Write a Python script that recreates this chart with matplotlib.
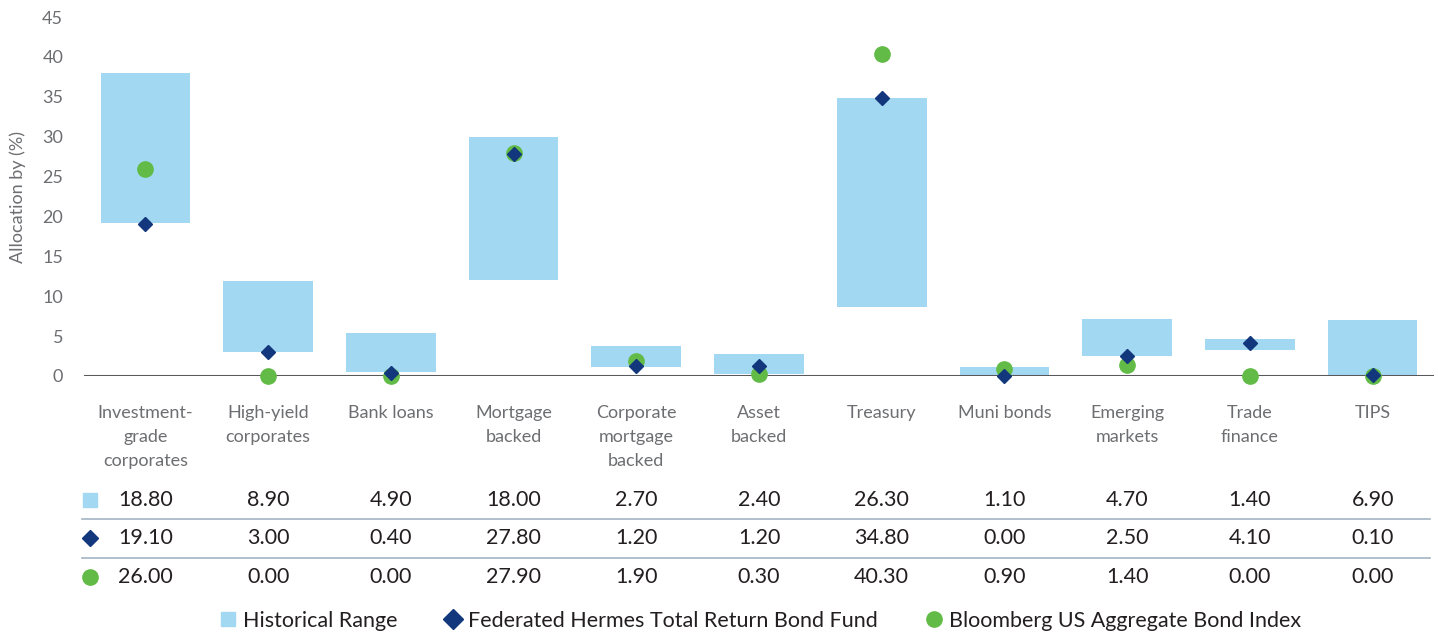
import numpy as np
import matplotlib.pyplot as plt
from matplotlib.lines import Line2D
from matplotlib.transforms import blended_transform_factory

plt.rcParams['font.family'] = ['Lato', 'DejaVu Sans']

categories = ["Investment-\ngrade\ncorporates", "High-yield\ncorporates", "Bank loans",
              "Mortgage\nbacked", "Corporate\nmortgage\nbacked", "Asset\nbacked",
              "Treasury", "Muni bonds", "Emerging\nmarkets", "Trade\nfinance", "TIPS"]
range_width = [18.80, 8.90, 4.90, 18.00, 2.70, 2.40, 26.30, 1.10, 4.70, 1.40, 6.90]
range_low = [19.2, 3.0, 0.5, 12.0, 1.1, 0.3, 8.6, 0.0, 2.5, 3.3, 0.1]
fund = [19.10, 3.00, 0.40, 27.80, 1.20, 1.20, 34.80, 0.00, 2.50, 4.10, 0.10]
index = [26.00, 0.00, 0.00, 27.90, 1.90, 0.30, 40.30, 0.90, 1.40, 0.00, 0.00]

BLUE = "#a3d8f3"
NAVY = "#12377c"
GREEN = "#62bb46"
GRAY = "#6d6e71"
DARK = "#231f20"

W, H = 1438, 635
fig = plt.figure(figsize=(W / 100, H / 100), dpi=100)
ax = fig.add_axes([84 / W, 1 - 376 / H, 1350 / W, 359 / H])

x = np.arange(len(categories))
ax.bar(x, range_width, bottom=range_low, width=0.73, color=BLUE, zorder=2)
ax.axhline(0, color="#58595b", lw=2.2, zorder=2.5)
ax.plot(x, index, "o", color=GREEN, ms=11, clip_on=False, zorder=3, ls="none")
ax.plot(x, fund, "D", color=NAVY, ms=7.5, clip_on=False, zorder=4, ls="none")

ax.set_xlim(-0.5, len(categories) - 0.5)
ax.set_ylim(0, 45)
ax.set_yticks(np.arange(0, 46, 5))
ax.set_xticks(x)
ax.set_xticklabels(categories, linespacing=1.6)
ax.tick_params(axis="y", length=0, pad=15, labelsize=13, labelcolor=GRAY)
ax.tick_params(axis="x", length=0, pad=21, labelsize=13, labelcolor=GRAY)
for s in ax.spines.values():
    s.set_visible(False)

fig.text(18 / W, 1 - 197 / H, "Allocation by (%)", rotation=90, ha="center", va="center",
         fontsize=13, color=GRAY)

# table under the chart
trans = blended_transform_factory(ax.transData, fig.transFigure)
rows = [range_width, fund, index]
row_y = [500, 538, 577]
row_markers = [("s", BLUE, 10), ("D", NAVY, 8), ("o", GREEN, 11)]
for vals, yp, (m, c, ms) in zip(rows, row_y, row_markers):
    yf = 1 - yp / H
    for xi, v in zip(x, vals):
        ax.text(xi, yf, f"{v:.2f}", transform=trans, ha="center", va="center",
                fontsize=15.5, color=DARK)
    fig.add_artist(Line2D([90 / W], [yf], marker=m, color=c, ms=ms, ls="none",
                          transform=fig.transFigure))
for yp in [519, 558]:
    fig.add_artist(Line2D([82 / W, 1430 / W], [1 - yp / H] * 2, color="#a3b3c3", lw=1.2,
                          transform=fig.transFigure))

handles = [Line2D([], [], marker="s", color=BLUE, ms=10, ls="none"),
           Line2D([], [], marker="D", color=NAVY, ms=10, ls="none"),
           Line2D([], [], marker="o", color=GREEN, ms=11, ls="none")]
labels = ["Historical Range", "Federated Hermes Total Return Bond Fund",
          "Bloomberg US Aggregate Bond Index"]
fig.legend(handles, labels, loc="center", bbox_to_anchor=(759 / W, 1 - 621 / H), ncol=3,
           frameon=False, fontsize=15.5, handletextpad=0.2, columnspacing=2.1,
           handlelength=1, labelcolor=DARK, borderpad=0)

fig.savefig("out.png", dpi=100)
